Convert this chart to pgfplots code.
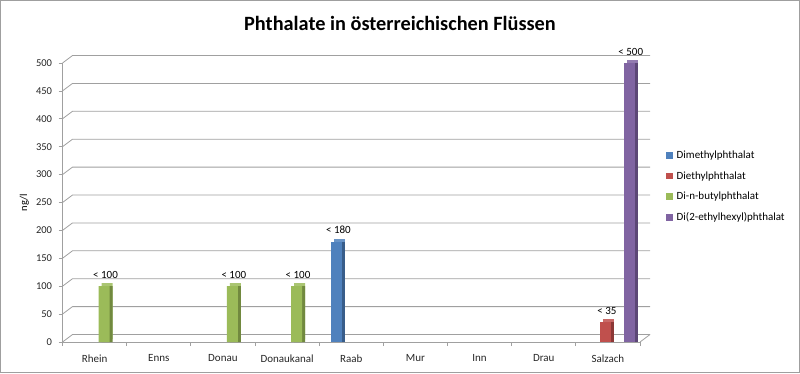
\documentclass[border=0pt]{standalone}
\usepackage{fontspec}
\setmainfont{Carlito}
\usepackage{pgfplots}
\pgfplotsset{compat=1.18}
\definecolor{cblue}{HTML}{4F81BD}
\definecolor{cred}{HTML}{C0504D}
\definecolor{cgreen}{HTML}{9BBB59}
\definecolor{cpurple}{HTML}{8064A2}
\definecolor{dblue}{HTML}{385D8A}
\definecolor{dred}{HTML}{8C3836}
\definecolor{dgreen}{HTML}{71893F}
\definecolor{dpurple}{HTML}{5C4776}
\definecolor{gridc}{HTML}{A0A0A0}
\begin{document}
\begin{tikzpicture}[x=1pt,y=1pt]
\draw[color=gray!75, line width=1pt] (0.5,0.5) rectangle (799.5,372.5);
\node[font=\bfseries\fontsize{20.3}{23}\selectfont] at (400,350) {Phthalate in österreichischen Flüssen};
\begin{axis}[
  set layers,
  at={(62.5pt,31pt)}, anchor=south west,
  scale only axis, width=577.5pt, height=279pt,
  xmin=-0.5, xmax=8.5, ymin=0, ymax=500,
  clip=false,
  ybar,
  bar width=11pt,
  axis x line*=bottom, axis y line*=left,
  axis line style={gridc, line width=0.8pt, -},
  tick align=outside,
  ytick={0,50,...,500},
  major tick length=4pt,
  minor tick length=4pt,
  xtick={0,...,8},
  xticklabels={Rhein,Enns,Donau,Donaukanal,Raab,Mur,Inn,Drau,Salzach},
  minor xtick={-0.5,0.5,...,8.5},
  x tick style={draw=none},
  minor x tick style={draw=gridc, line width=0.8pt},
  y tick style={draw=gridc, line width=0.8pt},
  tick label style={font=\fontsize{10.5}{12}\selectfont, text=black!85},
  xticklabel style={yshift=-5pt, font=\fontsize{11}{13}\selectfont},
  yticklabel style={xshift=-3pt},
  /pgf/number format/assume math mode=true,
  ylabel={ng/l},
  ylabel style={at={(axis description cs:-0.066,0.5)}, anchor=center, font=\fontsize{10.5}{12}\selectfont},
  legend style={at={(axis description cs:1.045,0.557)}, anchor=west, draw=none, fill=none,
    font=\fontsize{11}{13}\selectfont, inner sep=0pt, row sep=8.3pt, nodes={inner sep=1.5pt}},
  legend cell align=left,
  myleg/.style={legend image code/.code={\fill[##1] (0pt,-3.25pt) rectangle (6.5pt,3.25pt); \path (9pt,0pt);}},
  lbl/.style={nodes near coords={< \pgfmathprintnumber{\pgfplotspointmeta}},
    every node near coord/.append style={font=\fontsize{11}{13}\selectfont, yshift=4pt, xshift=1.5pt}},
  topface/.style={draw=none, xshift=3pt, yshift=3pt, forget plot},
  sideface/.style={draw=none, xshift=3pt, forget plot},
]
\begin{pgfonlayer}{axis background}
\pgfplotsinvokeforeach{0,50,...,500}{
  \draw[gridc, line width=0.8pt] (axis cs:-0.5,#1) -- ([shift={(10pt,7.5pt)}]axis cs:-0.5,#1) -- ([shift={(10pt,7.5pt)}]axis cs:8.5,#1);
}
\draw[gridc, line width=0.8pt] (axis cs:8.5,0) -- ([shift={(10pt,7.5pt)}]axis cs:8.5,0);
\end{pgfonlayer}
% 3D top faces (lighter copies)
\addplot[fill=cblue!85!white, bar shift=-14.35pt, topface] coordinates {(4,180)};
\addplot[fill=cred!85!white, bar shift=-2.45pt, topface] coordinates {(8,35)};
\addplot[fill=cgreen!85!white, bar shift=9.45pt, topface] coordinates {(0,100) (2,100) (3,100)};
\addplot[fill=cpurple!85!white, bar shift=21.35pt, topface] coordinates {(8,500)};
% 3D side faces (darker copies)
\addplot[fill=dblue, bar shift=-14.35pt, sideface] coordinates {(4,180)};
\addplot[fill=dred, bar shift=-2.45pt, sideface] coordinates {(8,35)};
\addplot[fill=dgreen, bar shift=9.45pt, sideface] coordinates {(0,100) (2,100) (3,100)};
\addplot[fill=dpurple, bar shift=21.35pt, sideface] coordinates {(8,500)};
% front faces
\addplot[fill=cblue, draw=none, bar shift=-14.35pt, myleg, lbl] coordinates {(4,180)};
\addplot[fill=cred, draw=none, bar shift=-2.45pt, myleg, lbl] coordinates {(8,35)};
\addplot[fill=cgreen, draw=none, bar shift=9.45pt, myleg, lbl] coordinates {(0,100) (2,100) (3,100)};
\addplot[fill=cpurple, draw=none, bar shift=21.35pt, myleg, lbl] coordinates {(8,500)};
\legend{Dimethylphthalat,Diethylphthalat,Di-n-butylphthalat,Di(2-ethylhexyl)phthalat}
\end{axis}
\end{tikzpicture}
\end{document}
